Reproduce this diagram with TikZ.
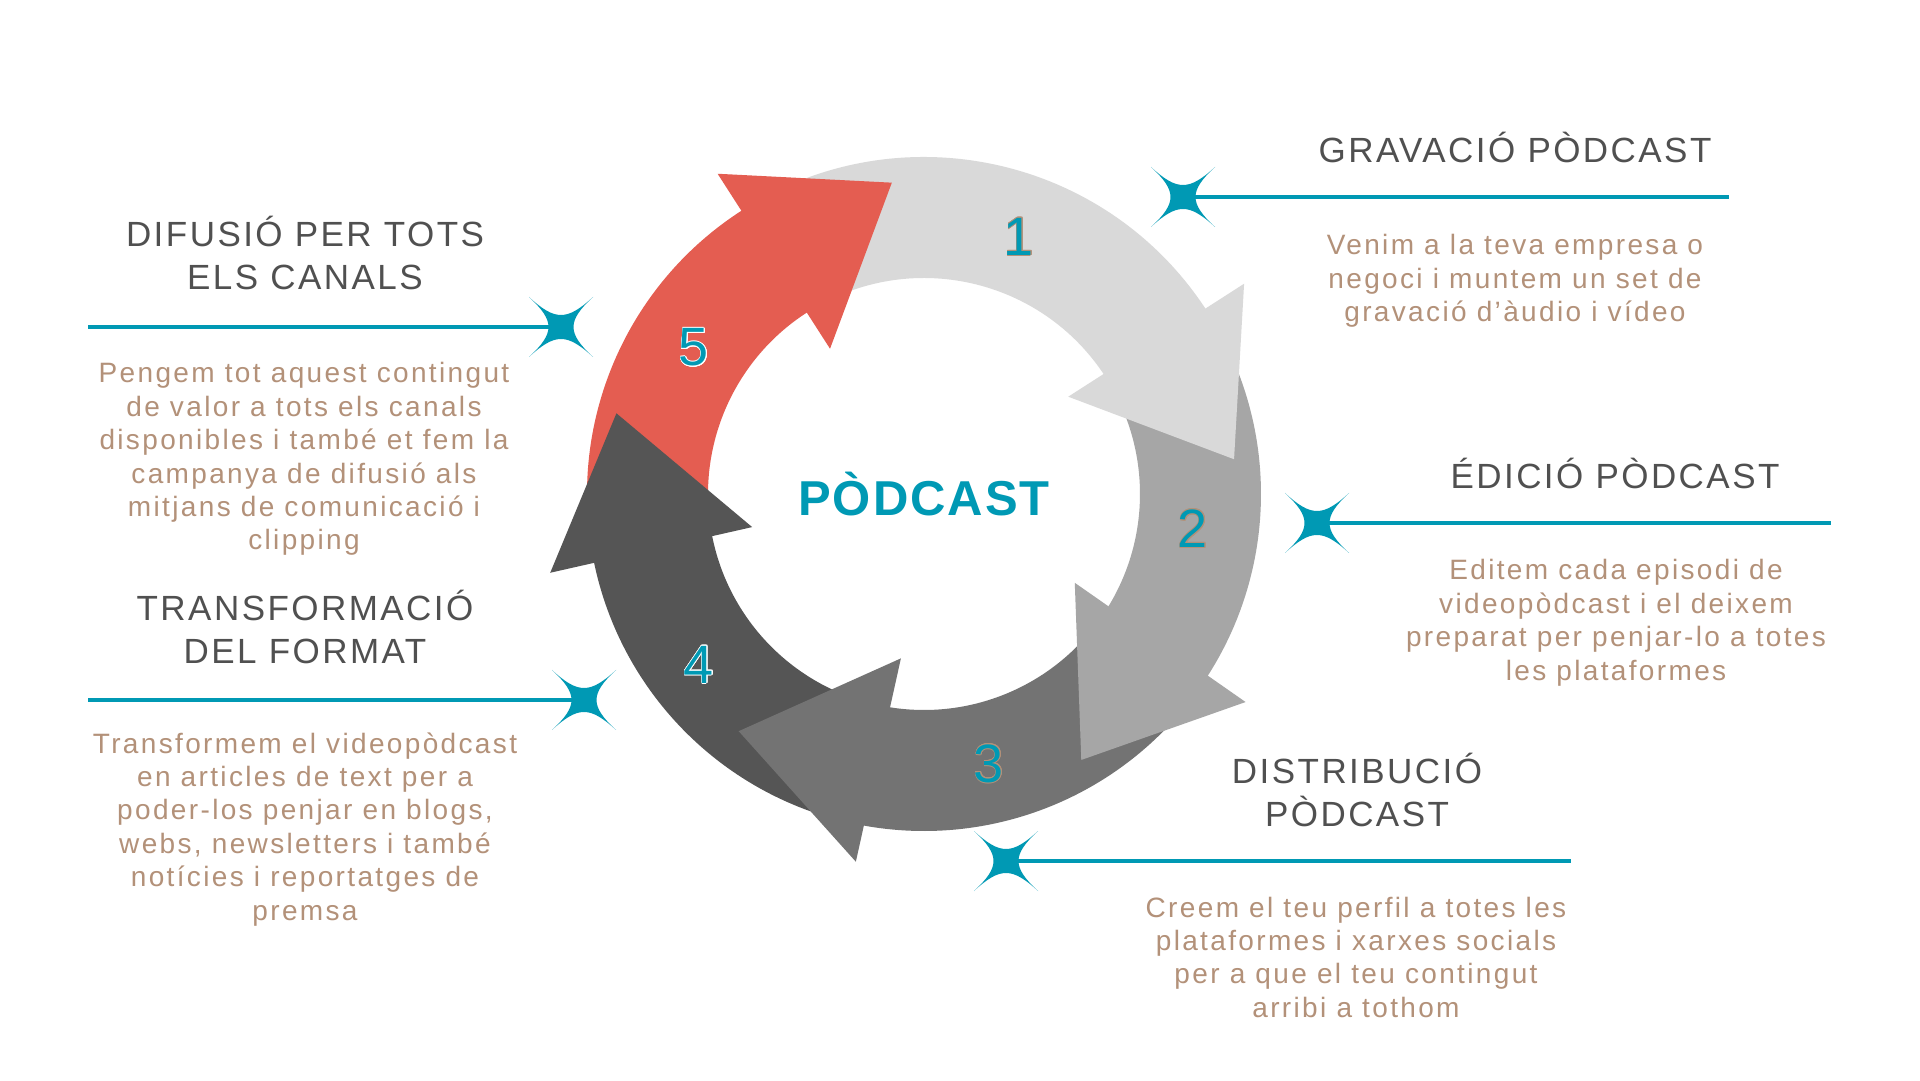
\documentclass[tikz,border=0pt]{standalone}
\usepackage{fontspec}
\setmainfont{Liberation Sans}
\newfontfamily\headfont[LetterSpace=7]{Liberation Sans}
\newfontfamily\bodyfont[LetterSpace=8.4]{Liberation Sans}
\newfontfamily\titlefont[LetterSpace=4]{Liberation Sans}
\usepackage{contour}
\contourlength{0.9pt}
\usetikzlibrary{calc}
\definecolor{tealc}{HTML}{0099B4}
\definecolor{headc}{HTML}{505050}
\definecolor{bodyc}{HTML}{B39179}
\definecolor{aone}{HTML}{D9D9D9}
\definecolor{atwo}{HTML}{A6A6A6}
\definecolor{athree}{HTML}{737373}
\definecolor{afour}{HTML}{555555}
\definecolor{afive}{HTML}{E45D51}
\newcommand\ringseg[3]{\fill[#1] ($(C)+(#2:337)$) arc[start angle=#2, end angle=#3, radius=337] -- ($(C)+(#3:216)$) arc[start angle=#3, end angle=#2, radius=216] -- cycle;}
\newcommand\ringhead[7]{\fill[#1] ($(C)+(#2:#3)$) -- ($(C)+(#4:#5)$) -- ($(C)+(#6:#7)$) -- cycle;}
\tikzset{
  sparkle/.pic={\fill[tealc] (32,30) .. controls (6,6) and (6,-6) .. (32,-30) .. controls (6,-6) and (-6,-6) .. (-32,-30) .. controls (-6,-6) and (-6,6) .. (-32,30) .. controls (-6,6) and (6,6) .. cycle;},
  tline/.style={draw=tealc, line width=3.5pt},
  headtxt/.style={text=headc, font=\headfont\fontsize{35}{43}\selectfont, align=center, anchor=base, inner sep=0pt},
  bodytxt/.style={text=bodyc, font=\bodyfont\fontsize{28}{33.4}\selectfont, align=center, anchor=base, inner sep=0pt},
  numtxt/.style={text=tealc, font=\fontsize{54}{60}\selectfont, inner sep=0pt},
}
\begin{document}
\begin{tikzpicture}[x=1pt,y=1pt]
\useasboundingbox (0,0) rectangle (1920,1080);
\fill[white] (0,0) rectangle (1920,1080);
\coordinate (C) at (924,586);
% ring bodies (ends hidden under the arrow heads)
\ringseg{aone}{122.2}{32.7}
\ringseg{atwo}{32.7}{-33.5}
\ringseg{athree}{-33.5}{-101.1}
\ringseg{afour}{-101.1}{-169.7}
\ringseg{afive}{190.3}{122.2}
% arrow heads
\ringhead{aone}{33.3}{383}{6.4}{312}{34}{174}
\ringhead{atwo}{-32.9}{383}{-59.4}{309}{-30.5}{175}
\ringhead{athree}{-100.5}{374}{-128}{301}{-98}{166}
\ringhead{afour}{191.9}{382}{165.3}{318}{190.9}{175}
\ringhead{afive}{122.8}{381}{95.9}{313}{122.9}{173}
% numbers
\node[numtxt] (n1) at (1019,843) {\contour{bodyc}{1}};
\node[numtxt] (n2) at (1193,551) {\contour{bodyc}{2}};
\node[numtxt] (n3) at (989,316) {\contour{bodyc}{3}};
\node[numtxt] (n4) at (699,415) {\contour{white}{4}};
\node[numtxt] (n5) at (694,732) {\contour{white}{5}};
% centre title
\node[text=tealc, font=\titlefont\bfseries\fontsize{49}{55}\selectfont, inner sep=0pt] (title) at (924,586) {PÒDCAST};
% sparkles and lines
\coordinate (s1) at (1183,883); \coordinate (e1) at (1729,883);
\coordinate (s2) at (1317,557); \coordinate (e2) at (1831,557);
\coordinate (s3) at (1006,219); \coordinate (e3) at (1571,219);
\coordinate (s4) at (584,380);  \coordinate (e4) at (88,380);
\coordinate (s5) at (561,753);  \coordinate (e5) at (88,753);
\draw[tline] (s1) -- (e1);
\draw[tline] (s2) -- (e2);
\draw[tline] (s3) -- (e3);
\draw[tline] (s4) -- (e4);
\draw[tline] (s5) -- (e5);
\pic at (s1) {sparkle};
\pic at (s2) {sparkle};
\pic at (s3) {sparkle};
\pic at (s4) {sparkle};
\pic at (s5) {sparkle};
% texts (anchor base = baseline of the last line)
\node[headtxt] (h1) at (1515,917) {GRAVACIÓ PÒDCAST};
\node[bodytxt] (b1) at (1515,758.5) {Venim a la teva empresa o\\negoci i muntem un set de\\gravació d’àudio i vídeo};
\node[headtxt] (h2) at (1615,591) {ÉDICIÓ PÒDCAST};
\node[bodytxt] (b2) at (1616,399.8) {Editem cada episodi de\\videopòdcast i el deixem\\preparat per penjar-lo a totes\\les plataformes};
\node[headtxt] (h3) at (1357,254) {DISTRIBUCIÓ\\PÒDCAST};
\node[bodytxt] (b3) at (1356,62.8) {Creem el teu perfil a totes les\\plataformes i xarxes socials\\per a que el teu contingut\\arribi a tothom};
\node[headtxt] (h5) at (305,790) {DIFUSIÓ PER TOTS\\ELS CANALS};
\node[bodytxt] (b5) at (304,530) {Pengem tot aquest contingut\\de valor a tots els canals\\disponibles i també et fem la\\campanya de difusió als\\mitjans de comunicació i\\clipping};
\node[headtxt] (h4) at (305,416) {TRANSFORMACIÓ\\DEL FORMAT};
\node[bodytxt] (b4) at (305,160) {Transformem el videopòdcast\\en articles de text per a\\poder-los penjar en blogs,\\webs, newsletters i també\\notícies i reportatges de\\premsa};
\end{tikzpicture}
\end{document}
